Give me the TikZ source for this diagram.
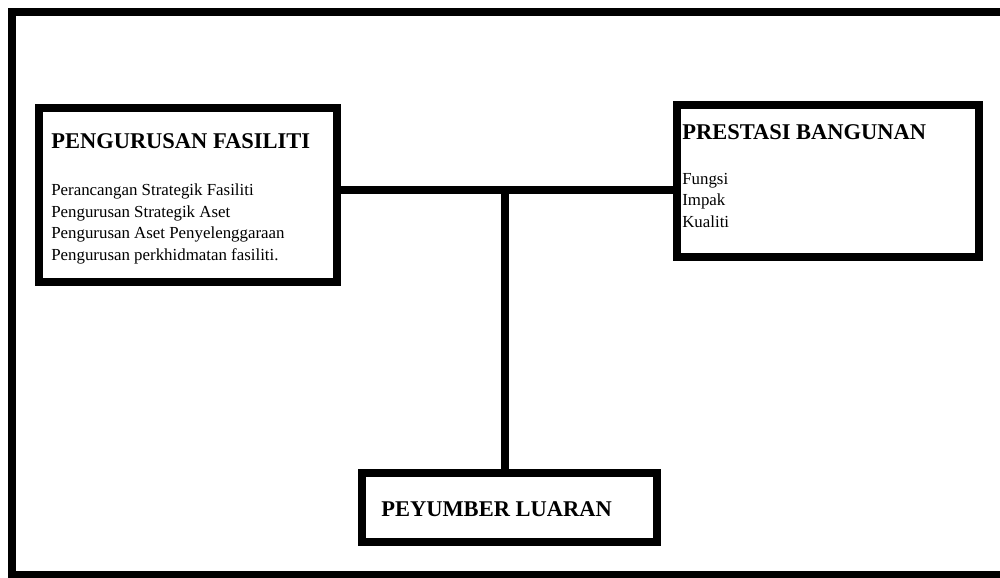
\documentclass[tikz,border=0pt]{standalone}
\usepackage{fontspec}
\setmainfont{Liberation Serif}
\usetikzlibrary{calc}

\begin{document}
\begin{tikzpicture}[
    every node/.style={font=\rmfamily},
    box/.style={draw, line width=0.2cm, fill=white, inner sep=0pt},
    link/.style={line width=0.21cm},
    title/.style={anchor=base west, inner sep=0pt, font=\fontsize{16}{19}\selectfont\bfseries},
    items/.style={anchor=base west, inner sep=0pt, align=left, font=\fontsize{12}{15.2}\selectfont}]
  \useasboundingbox (0,0) rectangle (25,-14.425);
  % Outer frame
  \draw[line width=0.2cm] (0.3,-0.3) rectangle (25.3,-14.375);

  % Pengurusan fasiliti box
  \node[box, minimum width=7.45cm, minimum height=4.35cm] (pf) at (4.7,-4.875) {};
  \node[title] (pftitle) at ([xshift=0.4cm, yshift=-1.1cm]pf.north west) {PENGURUSAN FASILITI};
  % base of a multi-line node sits on its last line
  \node[items] (pfitems) at ([xshift=0.4cm, yshift=-3.9cm]pf.north west)
    {Perancangan Strategik Fasiliti\\Pengurusan Strategik Aset\\Pengurusan Aset Penyelenggaraan\\Pengurusan perkhidmatan fasiliti.};

  % Prestasi bangunan box
  \node[box, minimum width=7.55cm, minimum height=3.8cm] (pb) at (20.7,-4.525) {};
  \node[title] (pbtitle) at ([xshift=0.225cm, yshift=-0.95cm]pb.north west) {PRESTASI BANGUNAN};
  \node[items] (pbitems) at ([xshift=0.225cm, yshift=-3.15cm]pb.north west) {Fungsi\\Impak\\Kualiti};

  % Peyumber luaran box
  \node[box, minimum width=7.375cm, minimum height=1.725cm] (pl) at (12.7375,-12.6875) {};
  \node[title] (pltitle) at ([xshift=0.575cm, yshift=-1.175cm]pl.north west) {PEYUMBER LUARAN};

  % Connectors
  \coordinate (jn) at (12.625,-4.75);
  \draw[link] (pf.east |- jn) -- (pb.west |- jn);
  \draw[link] (jn) -- (jn |- pl.north);
\end{tikzpicture}
\end{document}
